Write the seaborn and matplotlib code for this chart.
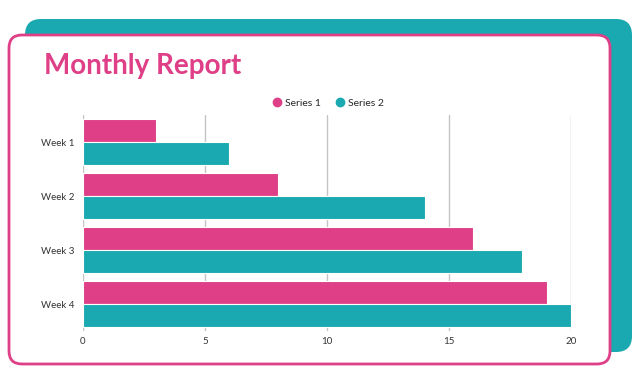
import pandas as pd
import seaborn as sns
import matplotlib.pyplot as plt
from matplotlib.patches import FancyBboxPatch
from matplotlib.lines import Line2D

# chart data
weeks = ['Week 1', 'Week 2', 'Week 3', 'Week 4']
series1 = [3, 8, 16, 19]
series2 = [6, 14, 18, 20]
x_ticks = [0, 5, 10, 15, 20]

pink = '#DE3F86'
teal = '#1AA9B0'

df = pd.DataFrame({
    'Week': weeks * 2,
    'Value': series1 + series2,
    'Series': ['Series 1'] * 4 + ['Series 2'] * 4,
})

sns.set_style('white')
plt.rcParams['font.family'] = ['Lato', 'DejaVu Sans']

fig = plt.figure(figsize=(6.4, 3.85), dpi=100)

# background cards, drawn in pixel coordinates
bg = fig.add_axes([0, 0, 1, 1], zorder=-1)
bg.set_xlim(0, 640)
bg.set_ylim(385, 0)
bg.axis('off')
bg.add_patch(FancyBboxPatch((25, 19), 607, 333, boxstyle='round,pad=0,rounding_size=16',
                            facecolor=teal, edgecolor='none'))
bg.add_patch(FancyBboxPatch((9, 35), 601, 329, boxstyle='round,pad=0,rounding_size=13',
                            facecolor='white', edgecolor=pink, linewidth=2))

fig.text(44 / 640, 1 - 74 / 385, 'Monthly Report', color=pink, fontsize=20,
         fontweight='bold', ha='left', va='baseline')

ax = fig.add_axes([83 / 640, 1 - 331 / 385, 488 / 640, 216 / 385])
ax.patch.set_alpha(0)
sns.barplot(data=df, x='Value', y='Week', hue='Series', orient='h',
            palette=[pink, teal], saturation=1, width=0.86, edgecolor='white',
            linewidth=0.8, ax=ax)
ax.set_xlim(0, 20)
ax.set_ylim(3.5, -0.5)
ax.set_xticks(x_ticks)
ax.grid(axis='x', color='#c4c4c4', linewidth=1)
ax.set_axisbelow(True)
for s in ax.spines.values():
    s.set_visible(False)
ax.tick_params(length=0, labelsize=7, colors='#333333')
ax.tick_params(axis='y', pad=6)
ax.tick_params(axis='x', pad=4)
ax.set_xlabel('')
ax.set_ylabel('')

handles = [Line2D([], [], marker='o', linestyle='', color=c, markersize=6)
           for c in [pink, teal]]
ax.legend(handles, ['Series 1', 'Series 2'], loc='center', ncol=2, frameon=False,
          bbox_to_anchor=(328 / 640, 1 - 103 / 385), bbox_transform=fig.transFigure,
          fontsize=7.5, handletextpad=0.3, columnspacing=1.3, handlelength=1.0)

plt.savefig('out.png', dpi=100)
